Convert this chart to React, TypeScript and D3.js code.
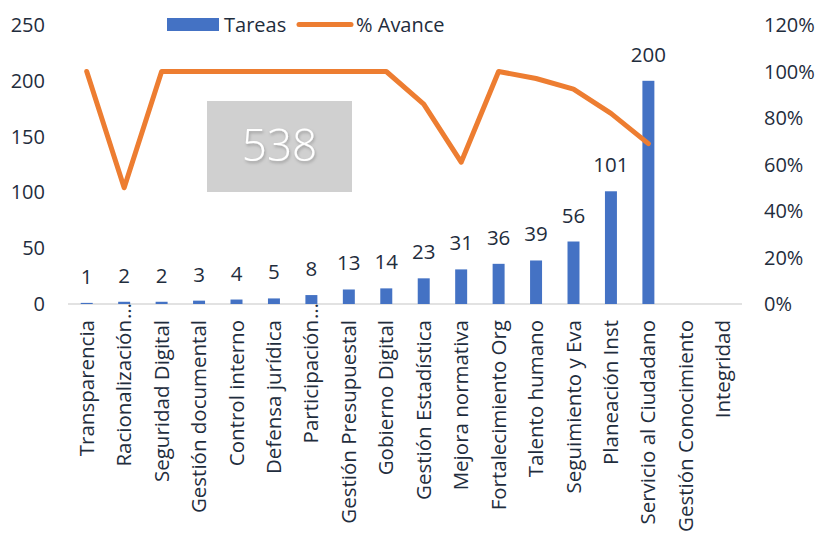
import React from "react";
import * as d3 from "d3";

const categories = [
  "Transparencia",
  "Racionalización",
  "Seguridad Digital",
  "Gestión documental",
  "Control interno",
  "Defensa jurídica",
  "Participación",
  "Gestión Presupuestal",
  "Gobierno Digital",
  "Gestión Estadística",
  "Mejora normativa",
  "Fortalecimiento Org",
  "Talento humano",
  "Seguimiento y Eva",
  "Planeación Inst",
  "Servicio al Ciudadano",
  "Gestión Conocimiento",
  "Integridad",
];
const truncated = [false, true, false, false, false, false, true, false, false, false, false, false, false, false, false, false, false, false];
const tareas: (number | null)[] = [1, 2, 2, 3, 4, 5, 8, 13, 14, 23, 31, 36, 39, 56, 101, 200, null, null];
const avance: (number | null)[] = [1.0, 0.5, 1.0, 1.0, 1.0, 1.0, 1.0, 1.0, 1.0, 0.86, 0.61, 1.0, 0.97, 0.924, 0.82, 0.69, null, null];
const leftTicks = [0, 50, 100, 150, 200, 250];
const rightTicks = [0, 0.2, 0.4, 0.6, 0.8, 1.0, 1.2];
const totalLabel = "538";

const W = 818;
const H = 534;
const FONT = "'Open Sans', sans-serif";
const TEXT = "#1f2d3d";

export default function App() {
  const x = d3.scaleBand<string>().domain(categories).range([68, 742]).paddingInner(0.68).paddingOuter(0.34);
  const yL = d3.scaleLinear().domain([0, 250]).range([304, 25]);
  const yR = d3.scaleLinear().domain([0, 1.2]).range([304, 25]);
  const cx = (c: string) => (x(c) as number) + x.bandwidth() / 2;

  const lineData = categories
    .map((c, i) => ({ c, v: avance[i] }))
    .filter((d) => d.v !== null) as { c: string; v: number }[];
  const line = d3
    .line<{ c: string; v: number }>()
    .x((d) => cx(d.c))
    .y((d) => yR(d.v));

  return (
    <svg width={W} height={H} style={{ position: "absolute", left: 0, top: 0, background: "#fff" }} fontFamily={FONT}>
      <defs>
        <filter id="sh" x="-20%" y="-20%" width="140%" height="140%">
          <feDropShadow dx="1" dy="2" stdDeviation="1.5" floodColor="#000" floodOpacity="0.25" />
        </filter>
      </defs>
      {leftTicks.map((t) => (
        <text key={"l" + t} x={45} y={yL(t)} dy="0.35em" textAnchor="end" fontSize={20} fill={TEXT}>
          {t}
        </text>
      ))}
      {rightTicks.map((t) => (
        <text key={"r" + t} x={764} y={yR(t)} dy="0.35em" textAnchor="start" fontSize={20} fill={TEXT}>
          {d3.format(".0%")(t)}
        </text>
      ))}
      <line x1={68} x2={742} y1={304} y2={304} stroke="#d9d9d9" strokeWidth={1.5} />
      {categories.map((c, i) =>
        tareas[i] === null ? null : (
          <g key={"b" + c}>
            <rect x={x(c)} y={yL(tareas[i] as number)} width={x.bandwidth()} height={304 - yL(tareas[i] as number)} fill="#4472C4" />
            <text x={cx(c)} y={yL(tareas[i] as number) - 19} textAnchor="middle" fontSize={20.5} fill={TEXT}>
              {tareas[i]}
            </text>
          </g>
        )
      )}
      <path d={line(lineData) || ""} fill="none" stroke="#ED7D31" strokeWidth={5} strokeLinejoin="round" strokeLinecap="round" />
      <rect x={207} y={101} width={145} height={91} fill="#d0d0d0" />
      <text x={279.5} y={161} textAnchor="middle" fontSize={44} fontWeight={300} fill="#fff" filter="url(#sh)">
        {totalLabel}
      </text>
      {categories.map((c, i) => (
        <g key={"x" + c} transform={`translate(${cx(c) + 7},320) rotate(-90)`}>
          <text x={0} y={0} textAnchor="end" fontSize={20.5} fill={TEXT}>
            {c}
          </text>
          {truncated[i] ? (
            <text x={1} y={0} textAnchor="start" fontSize={20.5} fill={TEXT}>
              …
            </text>
          ) : null}
        </g>
      ))}
      <rect x={167} y={18} width={52} height={13} fill="#4472C4" />
      <text x={224} y={24.5} dy="0.35em" fontSize={20} fill={TEXT}>
        Tareas
      </text>
      <line x1={299} x2={351} y1={24.5} y2={24.5} stroke="#ED7D31" strokeWidth={5} strokeLinecap="round" />
      <text x={356} y={24.5} dy="0.35em" fontSize={20} fill={TEXT}>
        % Avance
      </text>
    </svg>
  );
}
